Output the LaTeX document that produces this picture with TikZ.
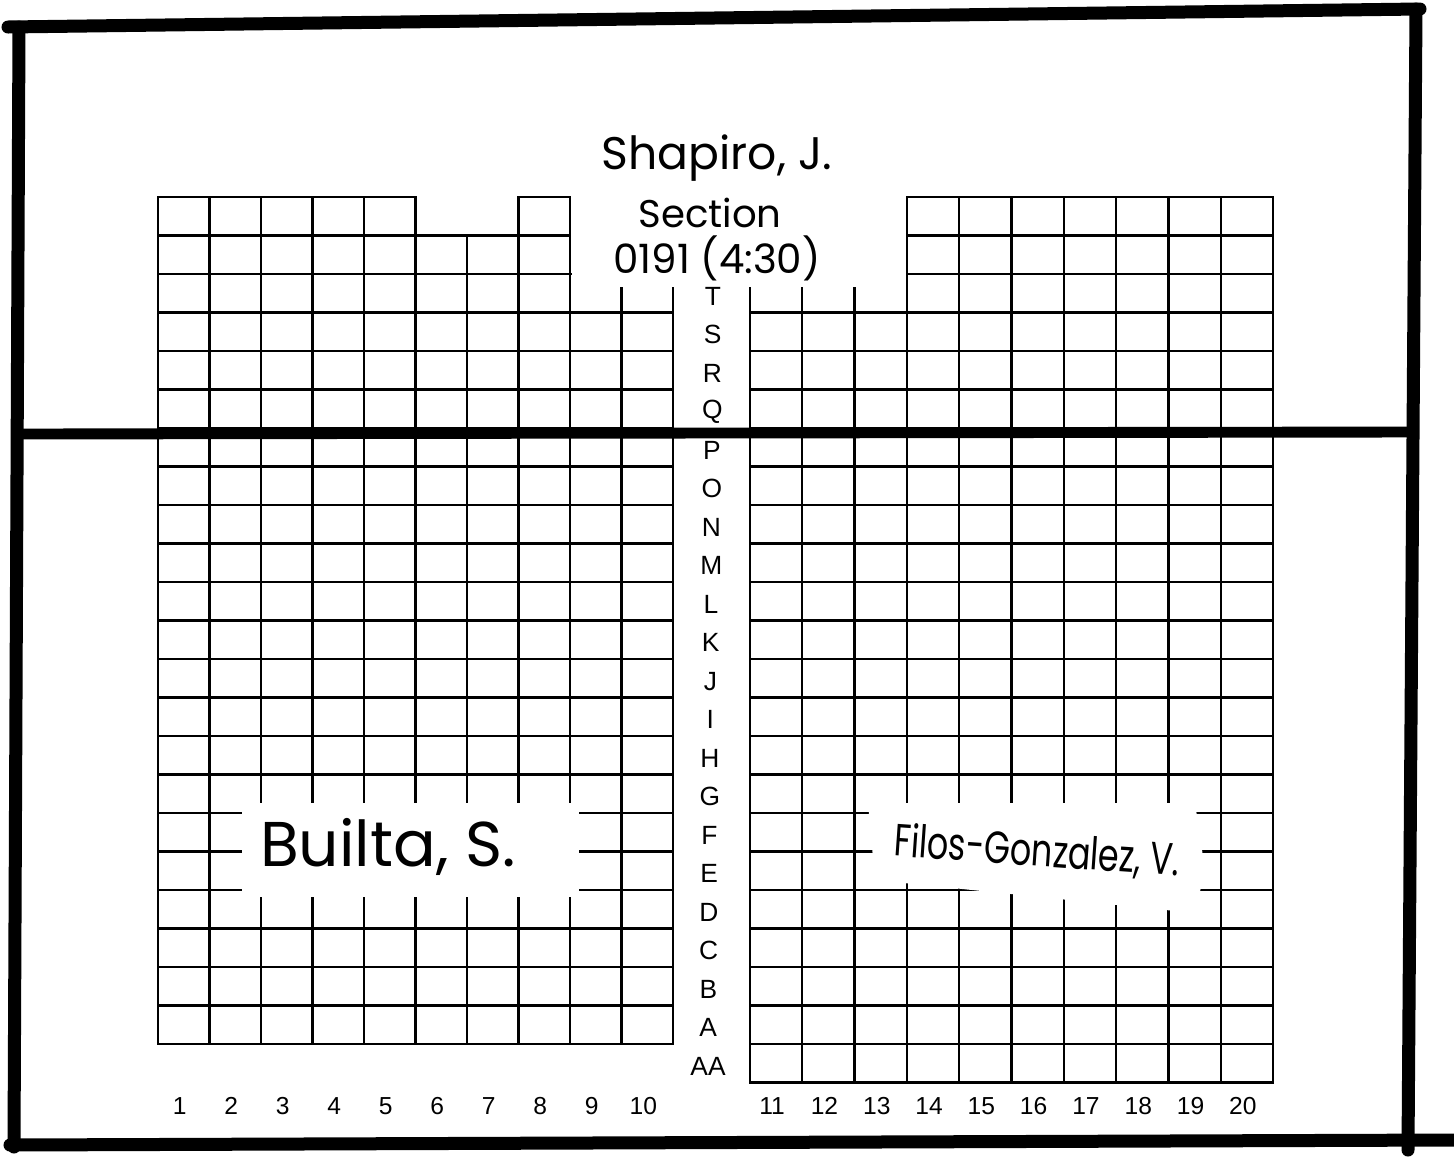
\documentclass[tikz,border=0pt]{standalone}
\usepackage{fontspec}
\setmainfont{Liberation Sans}
\newfontfamily\handfont{Poppins}

\begin{document}
\begin{tikzpicture}[x=0.02cm, y=-0.02cm, line cap=round,
  seat/.style={draw=black, line width=1.3pt},
  wall/.style={draw=black, line width=7.4pt},
  patch/.style={fill=white, draw=none},
  rowlab/.style={font=\fontsize{15}{15}\selectfont, inner sep=0pt},
  collab/.style={font=\fontsize{14}{14}\selectfont, inner sep=0pt},
  hand/.style={font=\handfont\fontsize{#1}{#1}\selectfont, inner sep=0pt}]
  \useasboundingbox (0,0) rectangle (1454,1157);
  \def\lx{158}    % left block, left edge
  \def\lw{51.5}   % left block, seat width
  \def\rx{750}    % right block, left edge
  \def\rw{52.3}   % right block, seat width
  \def\gy{197}    % top edge of the back row
  \def\rh{38.5}   % row depth

  % left block: column / first row that has a seat
  \foreach \c/\t in {1/0, 2/0, 3/0, 4/0, 5/0, 6/1, 7/1, 8/0, 9/2, 10/2}{
    \foreach \r in {\t,...,21}
      \draw[seat] ({\lx+(\c-1)*\lw},{\gy+\r*\rh}) rectangle +(\lw,\rh);
  }
  % right block (one row deeper, down to AA)
  \foreach \c/\t in {11/2, 12/2, 13/2, 14/0, 15/0, 16/0, 17/0, 18/0, 19/0, 20/0}{
    \foreach \r in {\t,...,22}
      \draw[seat] ({\rx+(\c-11)*\rw},{\gy+\r*\rh}) rectangle +(\rw,\rh);
  }

  % name stickers pasted over the grid
  \fill[patch] (572,140) rectangle (906,287);
  \fill[patch] (242,803) rectangle (579,897);
  \fill[patch] (868,803) -- (1195,803) -- (1205,870) -- (1195,913) -- (875,880) -- cycle;

  % handwritten names
  \node[hand=26] (teacher) at (717,158) {Shapiro, J.};
  \node[hand=22] (section) at (710,213) {Section};
  \node[hand=23] (slot)    at (717,258) {0191 (4:30)};
  \node[hand=36] (taleft)  at (388,847) {Builta, S.};
  \node[hand=19, rotate=-4] (taright) at (1037,852) {\scalebox{1}[1.35]{Filos-Gonzalez, V.}};

  % row letters in the aisle
  \foreach \l [count=\i from 0] in {T,S,R,Q,P,O,N,M,L,K,J,I,H,G,F,E,D,C,B,A,AA}
    \node[rowlab] (row\l) at ({713-\i*0.25},{\gy+(\i+2.5)*\rh+3}) {\l};

  % seat numbers
  \foreach \n in {1,...,10}
    \node[collab] (num\n) at ({\lx+(\n-0.5)*\lw-4},1106) {\n};
  \foreach \n in {11,...,20}
    \node[collab] (num\n) at ({\rx+(\n-10.5)*\rw-4},1106) {\n};

  % room walls and the divider line
  \draw[wall] (8,27) -- (1420,9);
  \draw[wall] (19,27) -- (14,1147);
  \draw[wall] (1416,9) -- (1408,1150);
  \draw[wall] (10,1145) -- (1454,1140);
  \draw[line width=6.2pt] (19,434) -- (1412,432);
\end{tikzpicture}
\end{document}
